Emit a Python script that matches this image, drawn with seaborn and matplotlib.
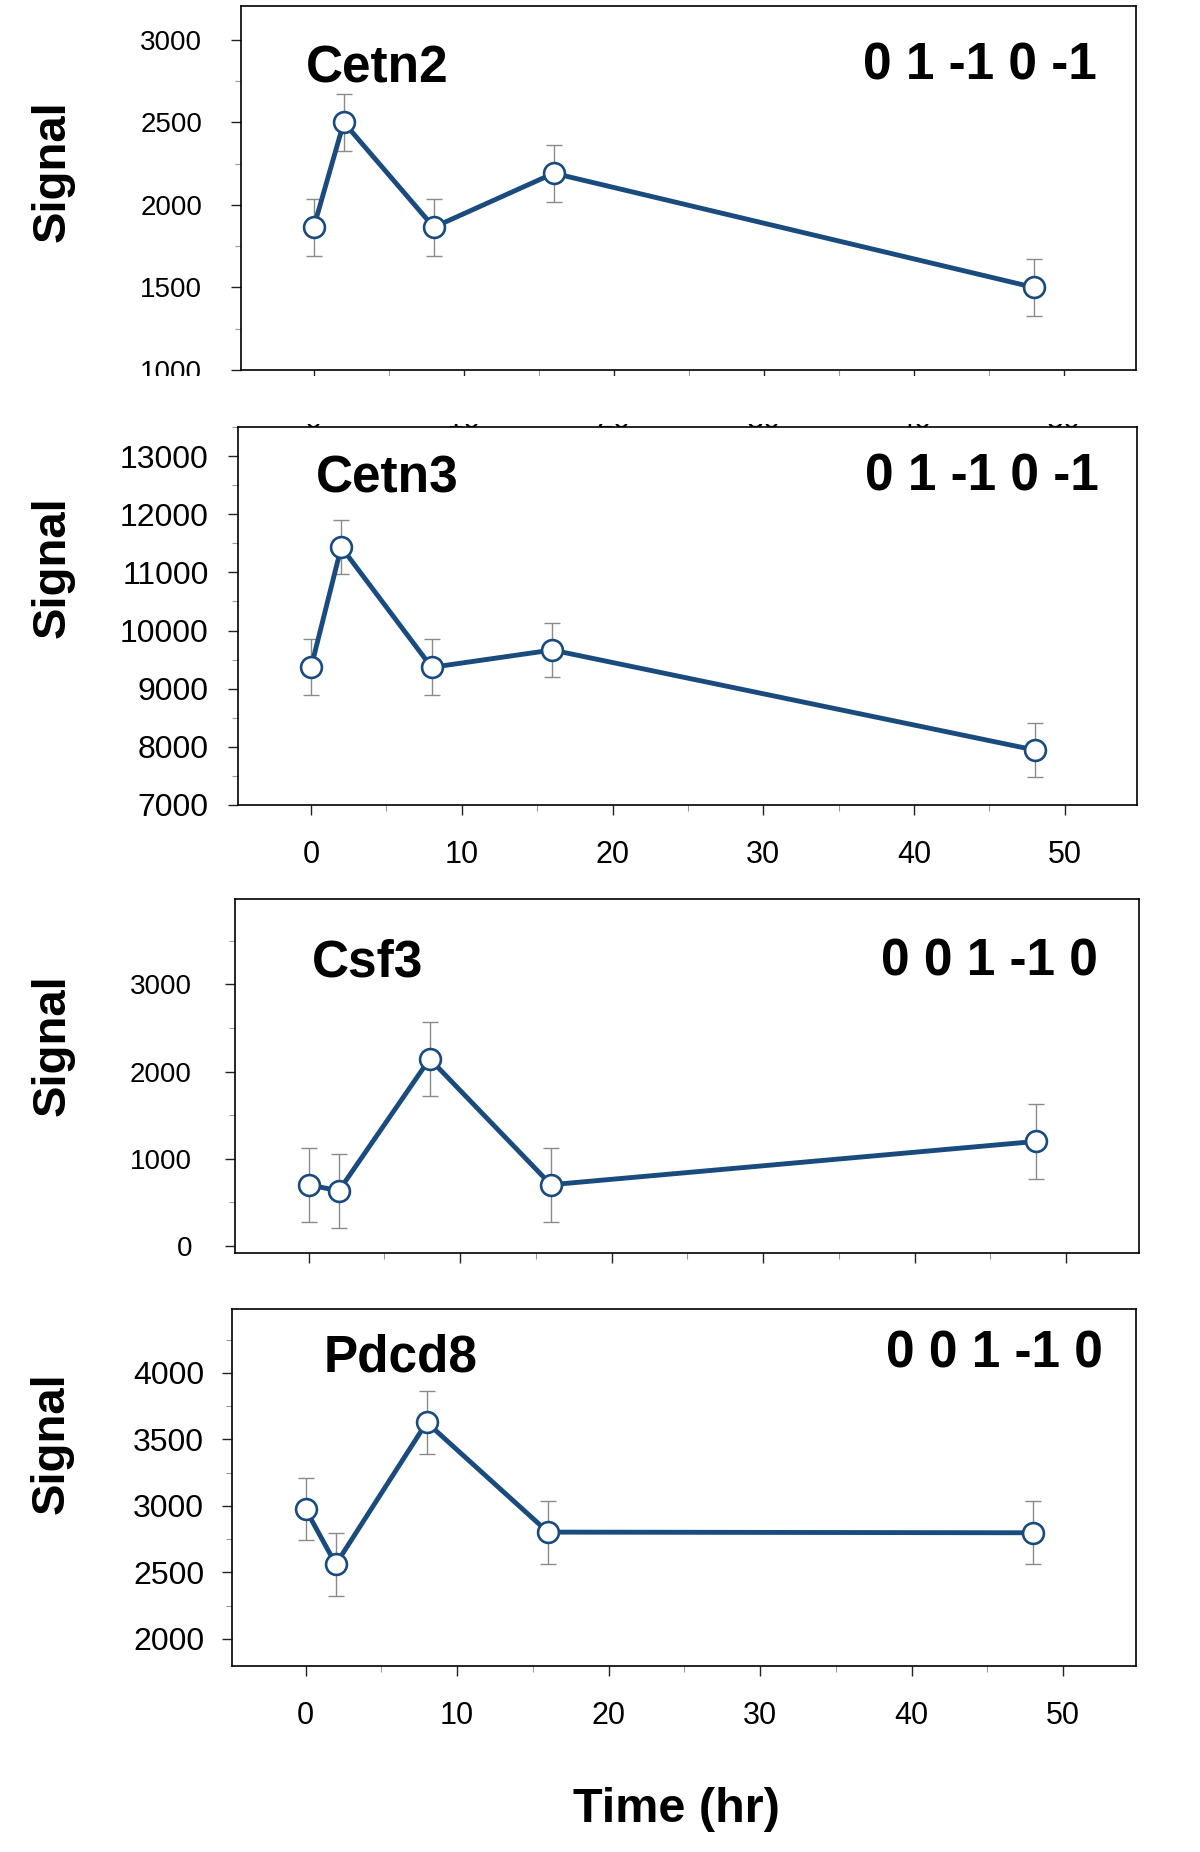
import pandas as pd
import matplotlib.pyplot as plt
import seaborn as sns
from matplotlib.patches import Rectangle
from matplotlib.ticker import MultipleLocator

# time points (hr)
hours = [0, 2, 8, 16, 48]

# mean signal and error per gene
cetn2 = [1865, 2500, 1865, 2192, 1500]
cetn2_err = [173, 172, 172, 173, 172]
cetn3 = [9367, 11436, 9367, 9665, 7946]
cetn3_err = [480, 472, 480, 472, 464]
csf3 = [703, 633, 2147, 703, 1200]
csf3_err = [423, 425, 423, 423, 427]
pdcd8 = [2976, 2560, 3627, 2802, 2797]
pdcd8_err = [236, 236, 236, 237, 237]

genes = ['Cetn2', 'Cetn3', 'Csf3', 'Pdcd8']
codes = ['0 1 -1 0 -1', '0 1 -1 0 -1', '0 0 1 -1 0', '0 0 1 -1 0']
values = [cetn2, cetn3, csf3, pdcd8]
errors = [cetn2_err, cetn3_err, csf3_err, pdcd8_err]

sns.set_style('ticks')
plt.rcParams['font.family'] = ['Liberation Sans', 'DejaVu Sans']
plt.rcParams['text.color'] = 'black'
plt.rcParams['axes.labelcolor'] = 'black'
plt.rcParams['xtick.color'] = 'black'
plt.rcParams['ytick.color'] = 'black'

navy = '#1a4b7f'
W, H = 1200, 1852

# per panel layout: box in pixels (left, top, right, bottom), y settings, text spots
panels = [
    dict(box=(241, 6, 1136, 370), ylim=(1000, 3205), major=500, minor=250, ysize=20, ypad=21,
         ylab=(-0.211, 0.547), name=(0.073, 0.791), code=(0.956, 0.797), xlabels=True),
    dict(box=(238, 427, 1137, 805), ylim=(7000, 13500), major=1000, minor=500, ysize=23, ypad=14,
         ylab=(-0.206, 0.63), name=(0.087, 0.828), code=(0.957, 0.833), xlabels=True),
    dict(box=(235, 899, 1139, 1253), ylim=(-80, 3980), major=1000, minor=500, ysize=20, ypad=24,
         ylab=(-0.202, 0.588), name=(0.085, 0.780), code=(0.955, 0.785), xlabels=False),
    dict(box=(232, 1309, 1136, 1666), ylim=(1795, 4480), major=500, minor=250, ysize=23, ypad=13,
         ylab=(-0.199, 0.625), name=(0.101, 0.824), code=(0.9635, 0.835), xlabels=True),
]

fig = plt.figure(figsize=(12, 18.52), dpi=100)

for i, p in enumerate(panels):
    l, t, r, b = p['box']
    ax = fig.add_axes([l / W, 1 - b / H, (r - l) / W, (b - t) / H])
    df = pd.DataFrame({'hour': hours, 'signal': values[i]})

    ax.errorbar(hours, values[i], yerr=errors[i], fmt='none', ecolor='#8a8a8a',
                elinewidth=1, capsize=6, capthick=1, zorder=2)
    sns.lineplot(data=df, x='hour', y='signal', ax=ax, color=navy, linewidth=3.5,
                 marker='o', markersize=15, markerfacecolor='white',
                 markeredgecolor=navy, markeredgewidth=1.9, zorder=3)

    ax.set_xlim(-4.85, 54.8)
    ax.set_ylim(*p['ylim'])
    ax.xaxis.set_major_locator(MultipleLocator(10))
    ax.xaxis.set_minor_locator(MultipleLocator(5))
    ax.yaxis.set_major_locator(MultipleLocator(p['major']))
    ax.yaxis.set_minor_locator(MultipleLocator(p['minor']))

    ax.tick_params(axis='both', which='major', direction='out', length=7, width=1,
                   color='#222222', labelcolor='black')
    ax.tick_params(axis='both', which='minor', direction='out', length=4, width=0.8,
                   color='#999999')
    ax.tick_params(axis='y', which='major', labelsize=p['ysize'], pad=p['ypad'])
    ax.tick_params(axis='x', which='major', labelsize=22, pad=18,
                   labelbottom=p['xlabels'])
    for s in ax.spines.values():
        s.set_visible(True)
        s.set_linewidth(1.2)
        s.set_color('black')

    ax.set_xlabel('')
    ax.set_ylabel('Signal', fontsize=34, fontweight='bold', va='center')
    ax.yaxis.set_label_coords(*p['ylab'])

    ax.text(p['name'][0], p['name'][1], genes[i], transform=ax.transAxes,
            fontsize=37, fontweight='bold', ha='left', va='baseline')
    ax.text(p['code'][0], p['code'][1], codes[i], transform=ax.transAxes,
            fontsize=37, fontweight='bold', ha='right', va='baseline')

    if i == 3:
        ax.set_xlabel('Time (hr)', fontsize=35, fontweight='bold', va='center')
        ax.xaxis.set_label_coords(0.492, -0.403)

# the top panel's tick labels are cut off in the source image
fig.add_artist(Rectangle((0, 1 - 424 / H), 1, (424 - 376) / H, transform=fig.transFigure,
                         facecolor='white', edgecolor='none', zorder=10))

fig.savefig('out.png', dpi=100, facecolor='white')
